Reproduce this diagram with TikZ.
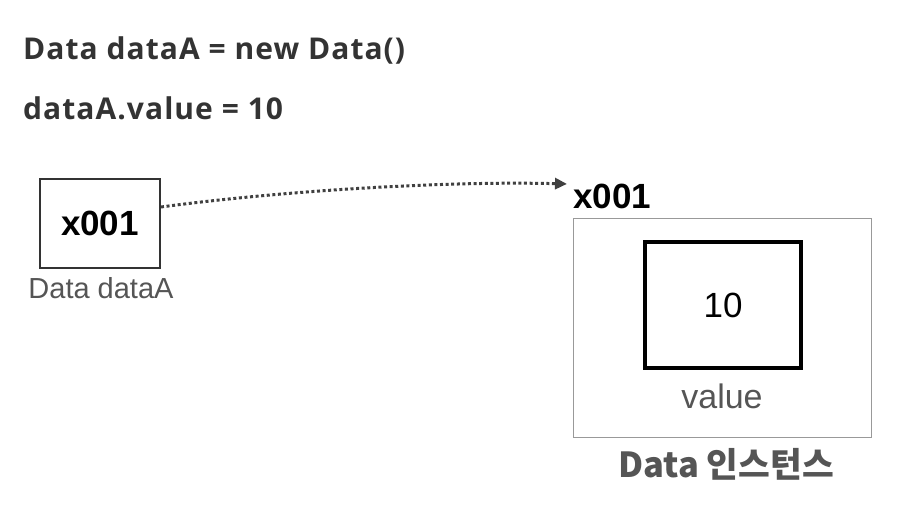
\documentclass[tikz,border=0pt]{standalone}
\usepackage{fontspec}
\setmainfont{Liberation Sans}
\newfontfamily\hdrfont[LetterSpace=3.5]{Open Sans}
\newfontfamily\korfont{Noto Sans CJK KR}
\usetikzlibrary{arrows.meta, positioning}

\definecolor{inkdark}{HTML}{333333}
\definecolor{inkgray}{HTML}{555555}
\definecolor{framegray}{HTML}{999999}

\begin{document}
\begin{tikzpicture}[
    x=1pt, y=-1pt,
    hdr/.style={anchor=base west, inner sep=0pt, text=inkdark, font=\hdrfont\bfseries\fontsize{30}{32}\selectfont},
    addr/.style={inner sep=0pt, font=\bfseries\fontsize{35}{38}\selectfont},
    lbl/.style={anchor=base, inner sep=0pt, text=inkgray, font=\fontsize{29}{31}\selectfont},
    refbox/.style={draw=inkdark, line width=2pt, minimum width=120pt, minimum height=89pt, inner sep=0pt},
    instbox/.style={draw=framegray, line width=1.6pt, minimum width=298pt, minimum height=219pt, inner sep=0pt},
    valbox/.style={draw=black, line width=4pt, minimum width=156pt, minimum height=126pt, inner sep=0pt,
      font=\fontsize{35}{38}\selectfont},
    ptr/.style={draw=black!75, line width=3pt, dash pattern=on 3pt off 2.6pt,
      -{Triangle[length=12pt, width=11pt]}}
  ]

  \useasboundingbox (0,0) rectangle (917,532);

  \node[hdr] (decl) at (23,60) {Data dataA = new Data()};
  \node[hdr] (assign) at (23,119) {dataA.value = 10};

  % reference variable on the stack
  \node[refbox, addr] (ref) at (100,223) {x001};
  \node[lbl] (reflbl) at (101,298) {Data dataA};

  % instance on the heap
  \node[addr, anchor=base west] (addr) at (573,208) {x001};
  \node[instbox] (inst) at (722.5,328) {};
  \node[valbox] (val) at (723,305) {10};
  \node[lbl, font=\fontsize{34}{36}\selectfont] (vallbl) at (722,408) {value};
  \node[lbl, font=\korfont\bfseries\fontsize{34.5}{37}\selectfont] (instlbl) at (726,477) {Data 인스턴스};

  \draw[ptr] ([yshift=16pt]ref.east) .. controls +(127,-17) and +(-117,-3) .. ([xshift=-6pt, yshift=12pt]addr.west);

\end{tikzpicture}
\end{document}
